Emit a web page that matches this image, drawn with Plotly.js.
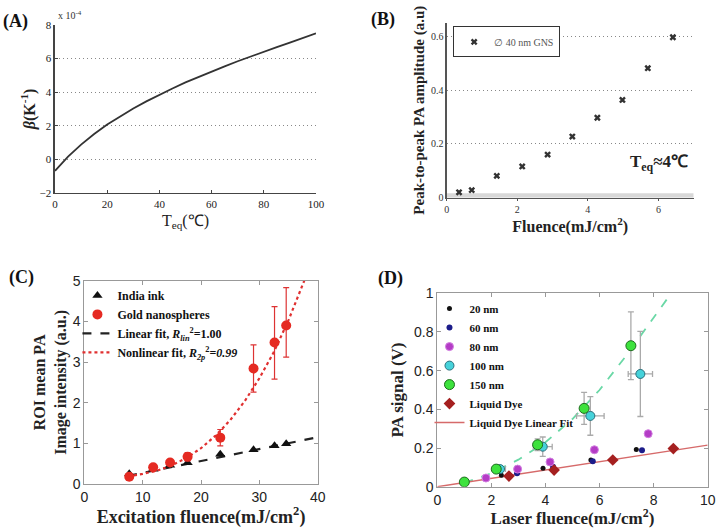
<!DOCTYPE html>
<html>
<head>
<meta charset="utf-8">
<script src="https://cdn.plot.ly/plotly-3.0.1.min.js"></script>
<style>
  body { margin: 0; background: #fff; }
  #fig { width: 717px; height: 528px; }
</style>
</head>
<body>
<div id="fig"></div>
<script>
// (A) thermal expansion coefficient of water, in units of 1e-4 / K
var tempA = [0, 5, 10, 15, 20, 25, 30, 35, 40, 45, 50, 55, 60, 65, 70, 75, 80, 85, 90, 95, 100];
var betaA = [-0.68, 0.16, 0.88, 1.51, 2.07, 2.57, 3.03, 3.45, 3.85, 4.22, 4.58, 4.91, 5.23, 5.54, 5.84, 6.13, 6.41, 6.68, 6.95, 7.21, 7.50];

// (B) peak-to-peak PA amplitude, 40 nm GNS
var fluB = [0.35, 0.71, 1.42, 2.14, 2.86, 3.56, 4.27, 4.98, 5.70, 6.41];
var ampB = [0.020, 0.028, 0.081, 0.116, 0.160, 0.227, 0.297, 0.363, 0.481, 0.596];

// (C) ROI mean PA image intensity
var fluC = [7.7, 11.8, 14.7, 17.7, 23.3, 29.0, 32.6, 34.6];
var inkC = [0.25, 0.36, 0.46, 0.52, 0.73, 0.84, 0.94, 0.99];
var goldC = [0.18, 0.41, 0.53, 0.67, 1.14, 2.84, 3.48, 3.90];
var goldErrUp = [0.05, 0.05, 0.07, 0.10, 0.20, 0.58, 0.88, 0.93];
var goldErrDn = [0.05, 0.05, 0.07, 0.10, 0.20, 0.58, 0.90, 0.78];
var linFitX = [7.5, 40];
var linFitY = [0.20, 1.15];
var nlFitX = [7.5, 10, 12.5, 15, 17.5, 20, 22.5, 25, 27.5, 30, 32.5, 35, 37.7];
var nlFitY = [0.19, 0.25, 0.33, 0.46, 0.64, 0.88, 1.19, 1.57, 2.04, 2.60, 3.25, 4.03, 5.0];

// (D) PA signal vs laser fluence
var x20 = [2.37, 3.91, 5.68, 7.36], y20 = [0.059, 0.095, 0.138, 0.193];
var x60 = [2.95, 4.28, 5.75, 7.57], y60 = [0.069, 0.103, 0.131, 0.188];
var x80 = [1.80, 2.97, 4.17, 5.81, 7.80], y80 = [0.045, 0.091, 0.128, 0.191, 0.274];
var x100 = [2.32, 3.90, 5.66, 7.51], y100 = [0.091, 0.207, 0.366, 0.583];
var x100err = [0.20, 0.35, 0.51, 0.45], y100err = [0.01, 0.05, 0.10, 0.22];
var x150 = [1.00, 2.18, 3.71, 5.43, 7.16], y150 = [0.024, 0.091, 0.217, 0.405, 0.729];
var y150err = [0.0, 0.0, 0.03, 0.083, 0.175];
var xDye = [2.65, 4.32, 6.49, 8.73], yDye = [0.055, 0.086, 0.138, 0.197];
var dyeFitX = [0, 10], dyeFitY = [0, 0.215];
var gnsFitX = [1.0, 2, 3, 4, 5, 6, 7, 8, 8.65];
var gnsFitY = [0.02, 0.07, 0.14, 0.23, 0.35, 0.50, 0.68, 0.87, 1.0];

var serif = 'Liberation Serif, Times New Roman, serif';
var sans = 'Liberation Sans, Arial, sans-serif';

var data = [
  // A
  { x: tempA, y: betaA, xaxis: 'x', yaxis: 'y', mode: 'lines',
    line: { color: '#333', width: 1.8 }, showlegend: false },
  // B
  { x: fluB, y: ampB, xaxis: 'x2', yaxis: 'y2', mode: 'markers', name: '∅ 40 nm GNS',
    marker: { symbol: 'x', size: 6, color: '#333' }, legend: 'legend3' },
  // C
  { x: linFitX, y: linFitY, xaxis: 'x3', yaxis: 'y3', mode: 'lines', legendrank: 3,
    name: '<b>Linear fit, <i>R<sub>lin</sub></i><sup>2</sup>=1.00</b>',
    line: { color: '#222', width: 2.2, dash: 'dash' } },
  { x: nlFitX, y: nlFitY, xaxis: 'x3', yaxis: 'y3', mode: 'lines', legendrank: 4,
    name: '<b>Nonlinear fit, <i>R<sub>2p</sub></i><sup>2</sup>=<i>0.99</i></b>',
    line: { color: '#e03030', width: 2.2, dash: 'dot' } },
  { x: fluC, y: inkC, xaxis: 'x3', yaxis: 'y3', mode: 'markers', name: '<b>India ink</b>', legendrank: 1,
    marker: { symbol: 'triangle-up', size: 9, color: '#111' } },
  { x: fluC, y: goldC, xaxis: 'x3', yaxis: 'y3', mode: 'markers', name: '<b>Gold nanospheres</b>', legendrank: 2,
    marker: { symbol: 'circle', size: 10, color: '#e52a22' },
    error_y: { type: 'data', array: goldErrUp, arrayminus: goldErrDn, color: '#d33', thickness: 1.2, width: 3 } },
  // D
  { x: gnsFitX, y: gnsFitY, xaxis: 'x4', yaxis: 'y4', mode: 'lines', showlegend: false,
    line: { color: '#6ad8a6', width: 1.8, dash: 'dash' } },
  { x: dyeFitX, y: dyeFitY, xaxis: 'x4', yaxis: 'y4', mode: 'lines', name: '<b>Liquid Dye Linear Fit</b>',
    legend: 'legend2', legendrank: 7, line: { color: '#d66a6a', width: 1.5 } },
  { x: x20, y: y20, xaxis: 'x4', yaxis: 'y4', mode: 'markers', name: '<b>20 nm</b>', legend: 'legend2', legendrank: 1,
    marker: { size: 5, color: '#111' } },
  { x: x60, y: y60, xaxis: 'x4', yaxis: 'y4', mode: 'markers', name: '<b>60 nm</b>', legend: 'legend2', legendrank: 2,
    marker: { size: 6, color: '#1c1c8a' } },
  { x: x80, y: y80, xaxis: 'x4', yaxis: 'y4', mode: 'markers', name: '<b>80 nm</b>', legend: 'legend2', legendrank: 3,
    marker: { size: 8, color: '#b43cc6', line: { color: '#d27ee0', width: 1 } } },
  { x: x100, y: y100, xaxis: 'x4', yaxis: 'y4', mode: 'markers', name: '<b>100 nm</b>', legend: 'legend2', legendrank: 4,
    marker: { size: 9, color: '#46d2da', line: { color: '#2b6f7c', width: 1 } },
    error_x: { type: 'data', array: x100err, color: '#aaa', thickness: 1.3, width: 3 },
    error_y: { type: 'data', array: y100err, color: '#aaa', thickness: 1.3, width: 3 } },
  { x: x150, y: y150, xaxis: 'x4', yaxis: 'y4', mode: 'markers', name: '<b>150 nm</b>', legend: 'legend2', legendrank: 5,
    marker: { size: 10, color: '#3de23d', line: { color: '#1f6b1f', width: 1 } },
    error_y: { type: 'data', array: y150err, color: '#aaa', thickness: 1.3, width: 3 } },
  { x: xDye, y: yDye, xaxis: 'x4', yaxis: 'y4', mode: 'markers', name: '<b>Liquid Dye</b>', legend: 'legend2', legendrank: 6,
    marker: { symbol: 'diamond', size: 9, color: '#a52020' } }
];

var boxAxis = {
  showline: true, mirror: 'ticks', linecolor: '#999', linewidth: 1,
  ticks: 'inside', ticklen: 4, tickcolor: '#999',
  showgrid: false, zeroline: false,
  tickfont: { family: sans, size: 14, color: '#222' }
};

var layout = {
  width: 717, height: 528,
  margin: { l: 0, r: 0, t: 0, b: 0 },
  paper_bgcolor: '#fff', plot_bgcolor: 'rgba(0,0,0,0)',
  font: { family: serif, color: '#111' },

  // A
  xaxis: { domain: [0.0767, 0.4407], anchor: 'y', range: [0, 100], tickvals: [0, 20, 40, 60, 80, 100],
    showline: true, linecolor: '#444', linewidth: 1.5, ticks: 'inside', ticklen: 3, tickcolor: '#444',
    showgrid: false, zeroline: false, tickfont: { family: serif, size: 11, color: '#222' },
    title: { text: 'T<sub>eq</sub>(℃)', font: { family: serif, size: 16, color: '#222' }, standoff: 6 } },
  yaxis: { domain: [0.6345, 0.9527], anchor: 'x', range: [-2, 8], tickvals: [-2, 0, 2, 4, 6, 8],
    showline: true, linecolor: '#444', linewidth: 1.5, ticks: 'inside', ticklen: 3, tickcolor: '#444',
    showgrid: true, gridcolor: '#888', griddash: '1px,3px', gridwidth: 1, zeroline: false,
    tickfont: { family: serif, size: 11, color: '#222' },
    title: { text: '<b><i>β</i>(K<sup>-1</sup>)</b>', font: { family: serif, size: 16, color: '#222' }, standoff: 0 } },

  // B
  xaxis2: { domain: [0.623, 0.9675], anchor: 'y2', range: [0, 7], tickvals: [0, 2, 4, 6],
    showline: true, linecolor: '#555', linewidth: 1.2, ticks: 'outside', ticklen: 2, tickcolor: '#555',
    showgrid: false, zeroline: false, tickfont: { family: serif, size: 10, color: '#333' },
    title: { text: '<b>Fluence(mJ/cm<sup>2</sup>)</b>', font: { family: serif, size: 16, color: '#222' }, standoff: 3 } },
  yaxis2: { domain: [0.6256, 0.957], anchor: 'x2', range: [0, 0.65], tickvals: [0, 0.2, 0.4, 0.6],
    showline: true, linecolor: '#555', linewidth: 1.2, ticks: '',
    showgrid: true, gridcolor: '#888', griddash: '1px,3px', gridwidth: 1, zeroline: false,
    tickfont: { family: serif, size: 10, color: '#333' },
    title: { text: '<b>Peak-to-peak PA amplitude (a.u)</b>', font: { family: serif, size: 15, color: '#222' }, standoff: 2 } },

  // C
  xaxis3: Object.assign({}, boxAxis, { domain: [0.1176, 0.4431], anchor: 'y3', range: [0, 40], dtick: 10,
    title: { text: '<b>Excitation fluence(mJ/cm<sup>2</sup>)</b>', font: { family: serif, size: 18, color: '#222' }, standoff: 4 } }),
  yaxis3: Object.assign({}, boxAxis, { domain: [0.0833, 0.4684], anchor: 'x3', range: [0, 5], dtick: 1,
    title: { text: '<b>ROI mean PA<br>Image intensity (a.u.)</b>', font: { family: serif, size: 16, color: '#222' }, standoff: 2 } }),

  // D
  xaxis4: Object.assign({}, boxAxis, { domain: [0.6099, 0.987], anchor: 'y4', range: [0, 10], dtick: 2,
    title: { text: '<b>Laser fluence(mJ/cm<sup>2</sup>)</b>', font: { family: serif, size: 17, color: '#222' }, standoff: 4 } }),
  yaxis4: Object.assign({}, boxAxis, { domain: [0.0782, 0.4445], anchor: 'x4', range: [0, 1], dtick: 0.2,
    title: { text: '<b>PA signal (V)</b>', font: { family: serif, size: 17, color: '#222' }, standoff: 6 } }),

  legend: { x: 0.108, y: 0.468, xanchor: 'left', yanchor: 'top', bgcolor: 'rgba(0,0,0,0)',
    font: { family: serif, size: 12, color: '#111' }, itemwidth: 30, tracegroupgap: 0, traceorder: 'normal' },
  legend2: { x: 0.599, y: 0.443, xanchor: 'left', yanchor: 'top', bgcolor: 'rgba(0,0,0,0)',
    font: { family: serif, size: 11, color: '#111' }, itemwidth: 30, tracegroupgap: 0, traceorder: 'normal' },
  legend3: { x: 0.632, y: 0.95, xanchor: 'left', yanchor: 'top', bgcolor: '#fff',
    bordercolor: '#333', borderwidth: 1,
    font: { family: serif, size: 10, color: '#555' }, itemwidth: 30 },

  shapes: [
    { type: 'rect', xref: 'x2', yref: 'y2', x0: 0, x1: 7, y0: 0, y1: 0.016,
      fillcolor: '#d8d8d8', line: { width: 0 }, layer: 'below' }
  ],

  annotations: [
    { text: '<b>(A)</b>', xref: 'paper', yref: 'paper', x: 0.002, y: 1 - 21.5 / 528, xanchor: 'left', yanchor: 'middle',
      showarrow: false, font: { family: serif, size: 18, color: '#111' } },
    { text: '<b>(B)</b>', xref: 'paper', yref: 'paper', x: 369 / 717, y: 1 - 19 / 528, xanchor: 'left', yanchor: 'middle',
      showarrow: false, font: { family: serif, size: 18, color: '#111' } },
    { text: '<b>(C)</b>', xref: 'paper', yref: 'paper', x: 7 / 717, y: 1 - 277.5 / 528, xanchor: 'left', yanchor: 'middle',
      showarrow: false, font: { family: serif, size: 18, color: '#111' } },
    { text: '<b>(D)</b>', xref: 'paper', yref: 'paper', x: 376 / 717, y: 1 - 278 / 528, xanchor: 'left', yanchor: 'middle',
      showarrow: false, font: { family: serif, size: 18, color: '#111' } },
    { text: 'x 10<sup>-4</sup>', xref: 'paper', yref: 'paper', x: 56 / 717, y: 1 - 15 / 528, xanchor: 'left', yanchor: 'middle',
      showarrow: false, font: { family: serif, size: 10, color: '#333' } },
    { text: '<b>T<sub>eq</sub>≈4℃</b>', xref: 'x2', yref: 'y2', x: 6.9, y: 0.13, xanchor: 'right', yanchor: 'middle',
      showarrow: false, font: { family: serif, size: 17, color: '#222' } }
  ]
};

Plotly.newPlot('fig', data, layout, { staticPlot: true });
</script>
</body>
</html>
